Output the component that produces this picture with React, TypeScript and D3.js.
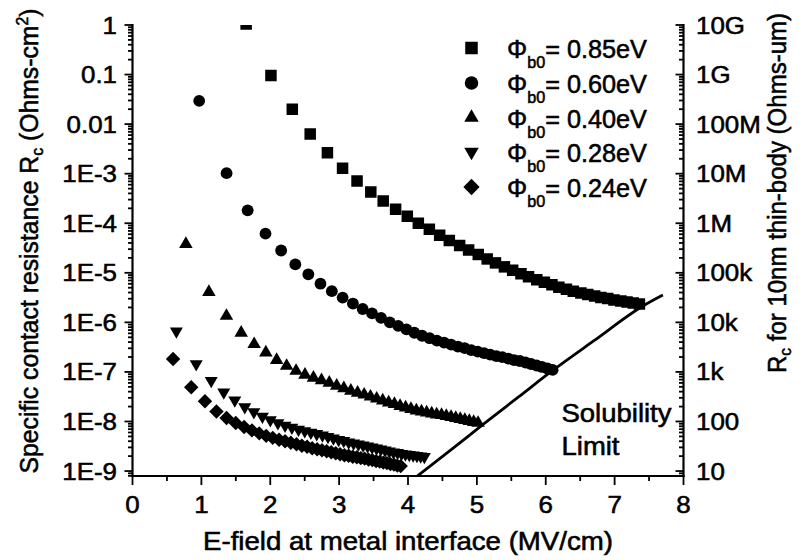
import React from "react";
import * as d3 from "d3";

const W = 803;
const H = 560;

// E-field (MV/cm) and log10(Rc [Ohm-cm^2]) for each barrier height
const x085 = [1.65,2.01,2.32,2.58,2.83,3.05,3.26,3.46,3.64,3.82,3.99,4.15,4.31,4.46,4.60,4.75,4.88,5.02,5.15,5.27,5.40,5.52,5.64,5.75,5.87,5.98,6.09,6.19,6.30,6.40,6.51,6.61,6.71,6.80,6.90,6.99,7.09,7.18,7.27,7.36];
const log085 = [0.02,-1.02,-1.70,-2.20,-2.58,-2.89,-3.15,-3.37,-3.55,-3.72,-3.86,-4.00,-4.12,-4.24,-4.35,-4.45,-4.54,-4.63,-4.72,-4.80,-4.88,-4.95,-5.02,-5.08,-5.14,-5.19,-5.24,-5.29,-5.33,-5.37,-5.41,-5.44,-5.47,-5.50,-5.52,-5.55,-5.57,-5.59,-5.61,-5.63];

const x060 = [0.968,1.366,1.672,1.931,2.158,2.364,2.553,2.729,2.894,3.051,3.200,3.342,3.478,3.609,3.736,3.858,3.977,4.092,4.204,4.314,4.420,4.524,4.626,4.725,4.823,4.918,5.012,5.104,5.194,5.283,5.370,5.456,5.540,5.624,5.706,5.787,5.867,5.945,6.023,6.100];
const log060 = [-1.53,-2.99,-3.74,-4.21,-4.55,-4.83,-5.03,-5.22,-5.37,-5.50,-5.62,-5.73,-5.82,-5.91,-6.00,-6.07,-6.14,-6.21,-6.27,-6.32,-6.37,-6.41,-6.45,-6.49,-6.52,-6.56,-6.59,-6.62,-6.65,-6.68,-6.70,-6.73,-6.76,-6.78,-6.81,-6.84,-6.87,-6.90,-6.93,-6.96];

const x040 = [0.775,1.109,1.364,1.578,1.766,1.936,2.093,2.238,2.375,2.504,2.627,2.744,2.857,2.965,3.069,3.170,3.268,3.363,3.455,3.545,3.633,3.719,3.803,3.885,3.965,4.043,4.121,4.196,4.271,4.344,4.416,4.487,4.556,4.625,4.693,4.759,4.825,4.890,4.954,5.017];
const log040 = [-4.42,-5.39,-5.87,-6.21,-6.44,-6.61,-6.76,-6.88,-6.98,-7.06,-7.12,-7.17,-7.22,-7.28,-7.33,-7.38,-7.42,-7.46,-7.50,-7.54,-7.58,-7.62,-7.65,-7.69,-7.72,-7.75,-7.78,-7.80,-7.82,-7.84,-7.86,-7.87,-7.89,-7.91,-7.93,-7.95,-7.97,-7.99,-8.01,-8.03];

const x028 = [0.637,0.925,1.143,1.325,1.485,1.630,1.762,1.886,2.001,2.111,2.215,2.314,2.410,2.501,2.590,2.675,2.758,2.838,2.917,2.993,3.067,3.139,3.210,3.280,3.348,3.414,3.479,3.543,3.606,3.668,3.729,3.789,3.848,3.906,3.963,4.019,4.075,4.130,4.184,4.237];
const log028 = [-6.18,-6.84,-7.18,-7.41,-7.57,-7.71,-7.81,-7.90,-7.97,-8.03,-8.08,-8.12,-8.16,-8.19,-8.22,-8.25,-8.28,-8.31,-8.34,-8.37,-8.39,-8.42,-8.44,-8.46,-8.48,-8.50,-8.52,-8.54,-8.56,-8.58,-8.60,-8.62,-8.63,-8.65,-8.66,-8.67,-8.68,-8.69,-8.70,-8.71];

const x024 = [0.589,0.853,1.052,1.219,1.366,1.499,1.621,1.734,1.840,1.941,2.036,2.128,2.215,2.299,2.381,2.459,2.535,2.609,2.681,2.751,2.819,2.886,2.951,3.014,3.077,3.138,3.198,3.257,3.315,3.371,3.427,3.482,3.537,3.590,3.642,3.694,3.745,3.796,3.845,3.894];
const log024 = [-6.74,-7.31,-7.59,-7.80,-7.93,-8.03,-8.11,-8.18,-8.24,-8.29,-8.33,-8.37,-8.40,-8.43,-8.46,-8.49,-8.51,-8.54,-8.56,-8.58,-8.60,-8.62,-8.64,-8.66,-8.68,-8.69,-8.71,-8.72,-8.74,-8.75,-8.77,-8.78,-8.80,-8.81,-8.83,-8.84,-8.86,-8.87,-8.89,-8.90];

// Solubility limit curve
const solX = [4.09,4.60,5.09,5.60,6.11,6.70,7.40,7.70];
const solLog = [-9.15,-8.60,-8.06,-7.51,-6.96,-6.37,-5.68,-5.45];

const legendLabels = ["0.85eV","0.60eV","0.40eV","0.28eV","0.24eV"];
const xTickValues = [0,1,2,3,4,5,6,7,8];
const yTickValues = [1,1e-1,1e-2,1e-3,1e-4,1e-5,1e-6,1e-7,1e-8,1e-9];
const leftTickLabels = ["1","0.1","0.01","1E-3","1E-4","1E-5","1E-6","1E-7","1E-8","1E-9"];
const rightTickLabels = ["10G","1G","100M","10M","1M","100k","10k","1k","100","10"];

const FONT = "'Liberation Sans', Arial, Helvetica, sans-serif";

const L = 132.5, R = 683.5, T = 25, B = 476;
const x = d3.scaleLinear().domain([0, 8]).range([L, R]);
const y = d3.scaleLog().domain([Math.pow(10, -9.1), 1]).range([B, T]);

const sq = (s: number) => d3.symbol(d3.symbolSquare, s * s)() as string;
const circ = (d: number) => d3.symbol(d3.symbolCircle, Math.PI * d * d / 4)() as string;
const tri = (w: number) => d3.symbol(d3.symbolTriangle, (Math.sqrt(3) / 4) * w * w)() as string;

type Mk = { path: string; rot: number };
const dataMarkers: Mk[] = [
  { path: sq(11.5), rot: 0 },
  { path: circ(11.8), rot: 0 },
  { path: tri(13.5), rot: 0 },
  { path: tri(13), rot: 180 },
  { path: sq(10.2), rot: 45 },
];
const legendMarkers: Mk[] = [
  { path: sq(12.5), rot: 0 },
  { path: circ(13.5), rot: 0 },
  { path: tri(14.5), rot: 0 },
  { path: tri(14.5), rot: 180 },
  { path: sq(11.5), rot: 45 },
];

const seriesX = [x085, x060, x040, x028, x024];
const seriesLog = [log085, log060, log040, log028, log024];

const TS = { stroke: "#000", strokeWidth: 0.55 };

export default function App() {
  const minorY: number[] = [];
  for (let e = -10; e <= 0; e++) {
    for (let m = 2; m <= 9; m++) {
      const v = m * Math.pow(10, e);
      if (v >= Math.pow(10, -9.1) && v <= 1) minorY.push(v);
    }
  }
  const minorX = [0.5, 1.5, 2.5, 3.5, 4.5, 5.5, 6.5, 7.5];
  const solLine = d3
    .line<number>()
    .x((_, i) => x(solX[i]))
    .y((_, i) => y(Math.pow(10, solLog[i])))
    .curve(d3.curveMonotoneX)(solX) as string;

  const legendY = [48, 83, 117.5, 152, 187];

  return (
    <svg
      width={W}
      height={H}
      style={{ position: "absolute", left: 0, top: 0, background: "#fff" }}
      fontFamily={FONT}
    >
      <rect x={0} y={0} width={W} height={H} fill="#fff" />
      <defs>
        <clipPath id="plotclip">
          <rect x={L} y={T} width={R - L} height={B - T} />
        </clipPath>
      </defs>

      {/* data */}
      <g clipPath="url(#plotclip)">
        {seriesX.map((xs, si) =>
          xs.map((xv, i) => (
            <path
              key={`${si}-${i}`}
              d={dataMarkers[si].path}
              transform={`translate(${x(xv)},${y(Math.pow(10, seriesLog[si][i]))}) rotate(${dataMarkers[si].rot})`}
              fill="#000"
            />
          ))
        )}
        <path d={solLine} fill="none" stroke="#000" strokeWidth={2.8} />
      </g>

      {/* axes */}
      <g stroke="#000" strokeWidth={2.2}>
        <line x1={L} y1={T - 1} x2={L} y2={B + 1} />
        <line x1={R} y1={T - 1} x2={R} y2={B + 1} />
        <line x1={L - 1} y1={B} x2={R + 1} y2={B} />
      </g>
      <g stroke="#000" strokeWidth={1.8}>
        {yTickValues.map((v) => (
          <g key={`yt${v}`}>
            <line x1={L - 8} x2={L} y1={y(v)} y2={y(v)} />
            <line x1={R} x2={R - 8} y1={y(v)} y2={y(v)} />
          </g>
        ))}
        {minorY.map((v, i) => (
          <g key={`ym${i}`}>
            <line x1={L - 4.5} x2={L} y1={y(v)} y2={y(v)} />
            <line x1={R} x2={R - 4.5} y1={y(v)} y2={y(v)} />
          </g>
        ))}
        {xTickValues.map((v) => (
          <line key={`xt${v}`} x1={x(v)} x2={x(v)} y1={B} y2={B + 9} />
        ))}
        {minorX.map((v) => (
          <line key={`xm${v}`} x1={x(v)} x2={x(v)} y1={B} y2={B + 5} />
        ))}
      </g>

      {/* tick labels */}
      <g fontSize={24} fill="#000" {...TS}>
        {xTickValues.map((v) => (
          <text key={`xl${v}`} transform={`translate(${x(v)},513) scale(1.08,1)`} textAnchor="middle">
            {v}
          </text>
        ))}
        {yTickValues.map((v, i) => (
          <text key={`yl${v}`} transform={`translate(117,${y(v) + 8.5}) scale(1.08,1)`} textAnchor="end">
            {leftTickLabels[i]}
          </text>
        ))}
        {yTickValues.map((v, i) => (
          <text key={`yr${v}`} transform={`translate(696,${y(v) + 8.5}) scale(1.08,1)`} textAnchor="start">
            {rightTickLabels[i]}
          </text>
        ))}
      </g>

      <g fill="#000" {...TS}>
        {/* axis titles */}
        <text x={408} y={550} fontSize={25} textAnchor="middle" textLength={410} lengthAdjust="spacingAndGlyphs">
          E-field at metal interface (MV/cm)
        </text>
        <text
          transform="translate(38,241) rotate(-90)"
          fontSize={25}
          textAnchor="middle"
          textLength={465}
          lengthAdjust="spacingAndGlyphs"
        >
          Specific contact resistance R
          <tspan dy={5} fontSize={16}>c</tspan>
          <tspan dy={-5}> (Ohms-cm</tspan>
          <tspan dy={-10} fontSize={16}>2</tspan>
          <tspan dy={10}>)</tspan>
        </text>
        <text
          transform="translate(786,373) rotate(-90)"
          fontSize={25}
          textAnchor="start"
          textLength={360}
          lengthAdjust="spacingAndGlyphs"
        >
          R
          <tspan dy={5} fontSize={16}>c</tspan>
          <tspan dy={-5}> for 10nm thin-body (Ohms-um)</tspan>
        </text>

        {/* legend */}
        {legendLabels.map((lab, i) => (
          <g key={`lg${i}`}>
            <path
              d={legendMarkers[i].path}
              transform={`translate(471.5,${legendY[i]}) rotate(${legendMarkers[i].rot})`}
              fill="#000"
              stroke="none"
            />
            <text x={507} y={legendY[i] + 10} fontSize={25} textLength={140} lengthAdjust="spacingAndGlyphs">
              Φ
              <tspan dy={10} fontSize={16}>b0</tspan>
              <tspan dy={-10}>= {lab}</tspan>
            </text>
          </g>
        ))}

        {/* annotation */}
        <text x={561.5} y={421.5} fontSize={25} textLength={110} lengthAdjust="spacingAndGlyphs">
          Solubility
        </text>
        <text x={561.5} y={455} fontSize={25} textLength={58} lengthAdjust="spacingAndGlyphs">
          Limit
        </text>
      </g>
    </svg>
  );
}
